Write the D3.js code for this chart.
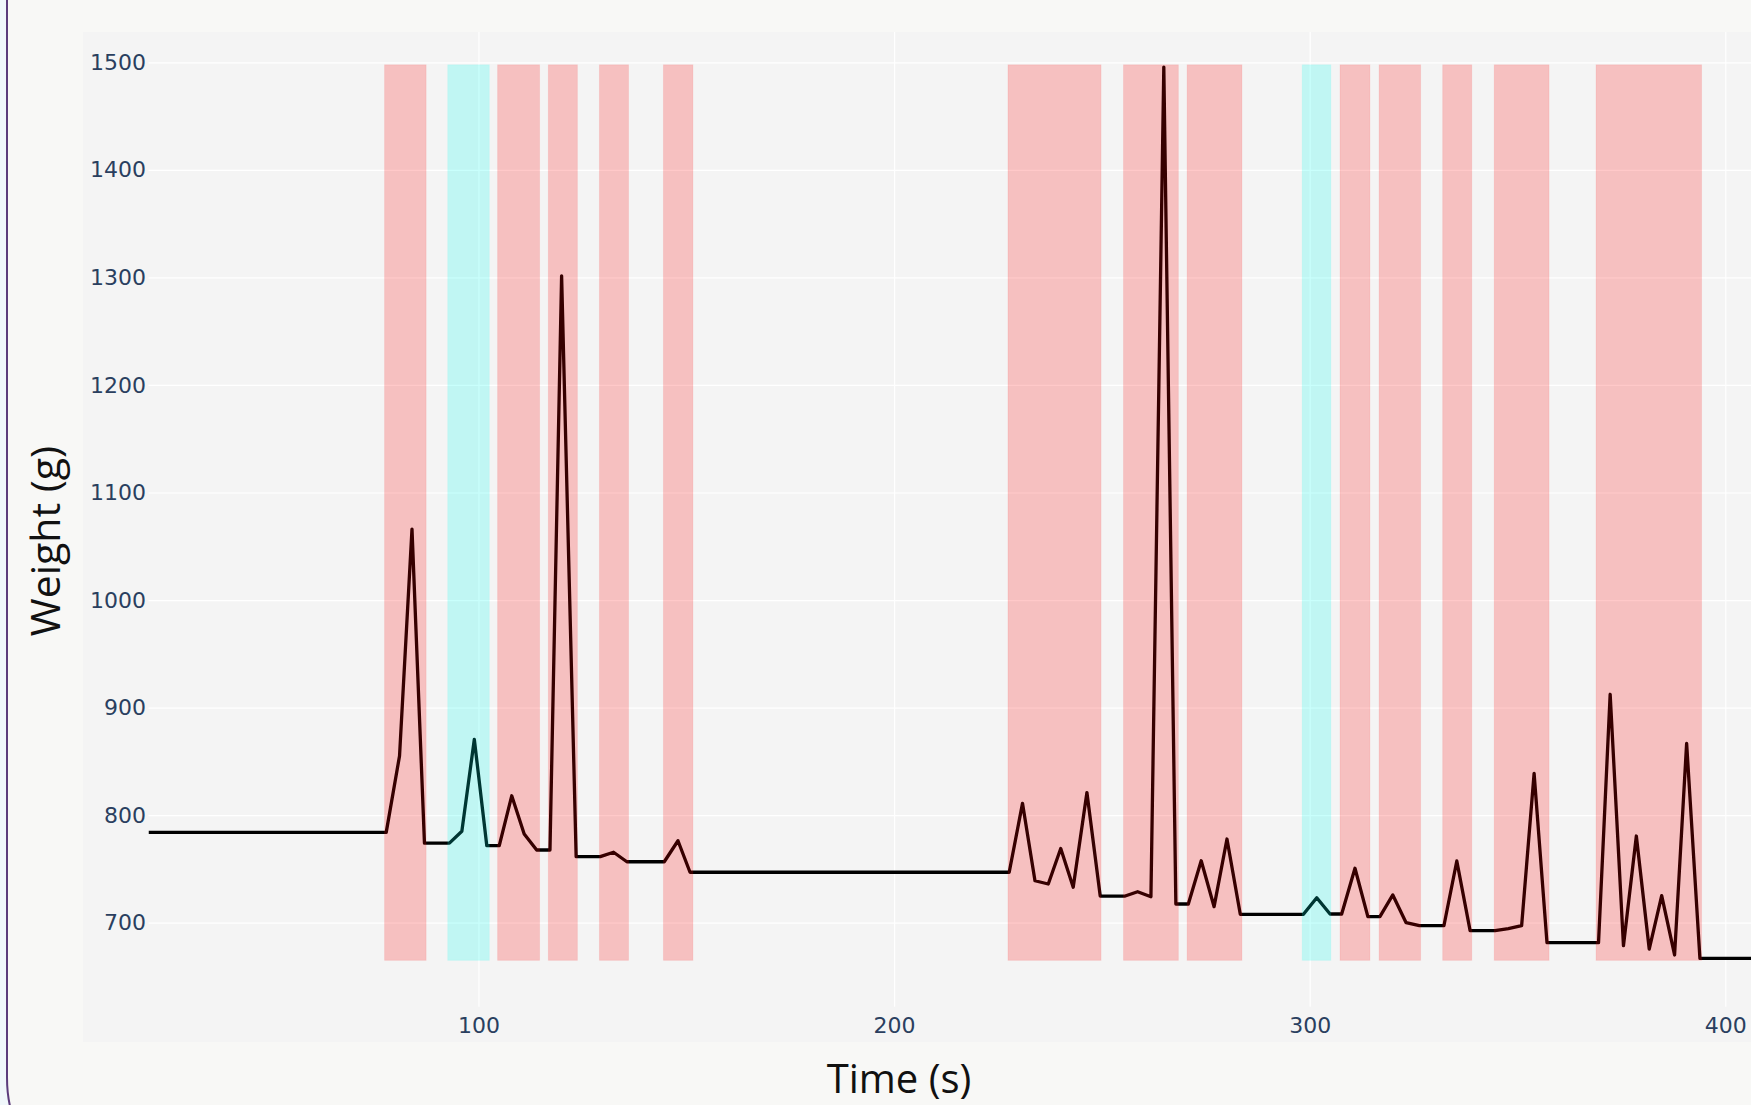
<!DOCTYPE html>
<html>
<head>
<meta charset="utf-8">
<script src="https://cdn.jsdelivr.net/npm/d3@7"></script>
<style>
	html, body { margin: 0; padding: 0; background: #f0f7fb; overflow: hidden; }
	svg { display: block; }
</style>
</head>
<body>
<div id="chart"></div>
<script>
// weight readings (g) against time (s)
const timeS = [20.6, 77.8, 81.0, 84.0, 87.0, 93.0, 96.0, 99.0, 102.0, 105.0, 108.0, 111.0, 114.0, 117.2, 120.0, 123.5,
	129.3, 132.5, 135.7, 144.7, 148.0, 150.9, 227.7, 230.9, 233.9, 237.1, 240.1, 243.1, 246.4, 249.6, 255.6, 258.6,
	261.8, 264.9, 267.8, 270.8, 273.9, 277.0, 280.1, 283.3, 298.5, 301.7, 304.9, 307.7, 310.9, 314.0, 316.9, 320.0,
	323.2, 326.4, 332.3, 335.4, 338.6, 344.6, 347.8, 351.0, 354.0, 357.1, 369.5, 372.3, 375.5, 378.6, 381.7, 384.7,
	387.8, 390.7, 393.9, 420]
const weightG = [784, 784, 855, 1066, 774, 774, 785, 870.5, 771.6, 771.6, 818, 782.5, 767.6, 767.6, 1301.5, 761.4,
	761.4, 765.5, 756.7, 756.7, 776.2, 746.9, 746.9, 811, 739, 736, 769, 733, 821, 724.8, 724.8, 728.8,
	724.2, 1495.6, 717.4, 717.4, 757.6, 714.9, 777.8, 707.8, 707.8, 723.2, 708.1, 708.1, 750.6, 705.6, 705.6, 725.8,
	700, 697.2, 697.2, 757.4, 692.6, 692.6, 694.5, 697.2, 838.9, 681.4, 681.4, 912.4, 678.6, 780.6, 675.5, 725.1,
	670, 866.8, 666.9, 666.9]

// highlighted intervals
const segStart = [77.4, 92.6, 104.6, 116.8, 129.1, 144.5, 227.4, 255.2, 270.5, 298.2, 307.3, 316.7, 332.0, 344.4, 368.9]
const segEnd = [87.4, 102.6, 114.7, 123.8, 136.1, 151.6, 249.8, 268.4, 283.7, 305.1, 314.5, 326.7, 339.0, 357.6, 394.3]
const segKind = ["red", "cyan", "red", "red", "red", "red", "red", "red", "red", "cyan", "red", "red", "red", "red", "red"]
const segLow = 665
const segHigh = 1497.7

const xTicks = [100, 200, 300, 400]
const yTicks = [700, 800, 900, 1000, 1100, 1200, 1300, 1400, 1500]

const width = 1751
const height = 1105
const plot = { left: 148.5, right: 1808.4, top: 32, bottom: 1006.7 }

const svg = d3.select("#chart").append("svg")
	.attr("width", width)
	.attr("height", height)

// card with purple border, rounded corner at bottom left
svg.append("path")
	.attr("d", `M7,-20 L7,${1163 - 86} Q7,1163 ${7 + 86},1163 L1800,1163 L1800,-20 Z`)
	.attr("fill", "#f8f8f6")
	.attr("stroke", "#5b3c7c")
	.attr("stroke-width", 2)

svg.append("rect")
	.attr("x", 83).attr("y", 32)
	.attr("width", width - 83).attr("height", 1042 - 32)
	.attr("fill", "#f4f4f4")

const x = d3.scaleLinear().domain([20.6, 420]).range([plot.left, plot.right])
const y = d3.scaleLinear().domain([621.9, 1528.2]).range([plot.bottom, plot.top])

const tickFont = "'DejaVu Sans', Verdana, sans-serif"

const xAxis = svg.append("g")
	.attr("transform", `translate(0,${plot.bottom})`)
	.call(d3.axisBottom(x).tickValues(xTicks).tickFormat(d3.format("d"))
		.tickSize(-(plot.bottom - plot.top)).tickPadding(10.5))
xAxis.select(".domain").remove()
xAxis.selectAll("line").attr("stroke", "#ffffff").attr("stroke-width", 1.2)
xAxis.selectAll("text").attr("fill", "#2a3f5f").style("font-family", tickFont).style("font-size", "22px")

const yAxis = svg.append("g")
	.attr("transform", `translate(${plot.left},0)`)
	.call(d3.axisLeft(y).tickValues(yTicks).tickFormat(d3.format("d"))
		.tickSize(-(plot.right - plot.left)).tickPadding(2.5))
yAxis.select(".domain").remove()
yAxis.selectAll("line").attr("stroke", "#ffffff").attr("stroke-width", 1.2)
yAxis.selectAll("text").attr("fill", "#2a3f5f").style("font-family", tickFont).style("font-size", "22px")

svg.append("clipPath").attr("id", "plot-clip")
	.append("rect")
	.attr("x", plot.left).attr("y", plot.top)
	.attr("width", plot.right - plot.left).attr("height", plot.bottom - plot.top)

const plotArea = svg.append("g").attr("clip-path", "url(#plot-clip)")

const points = timeS.map((t, i) => ({ t: t, w: weightG[i] }))
const line = d3.line().x(d => x(d.t)).y(d => y(d.w))

plotArea.append("path")
	.datum(points)
	.attr("d", line)
	.attr("fill", "none")
	.attr("stroke", "#000000")
	.attr("stroke-width", 3.3)
	.attr("stroke-linejoin", "round")

// shaded intervals sit above the trace, like the original
const segs = segStart.map((s, i) => ({ s: s, e: segEnd[i], kind: segKind[i] }))
plotArea.append("g")
	.selectAll("rect")
	.data(segs)
	.join("rect")
	.attr("x", d => x(d.s))
	.attr("y", y(segHigh))
	.attr("width", d => x(d.e) - x(d.s))
	.attr("height", y(segLow) - y(segHigh))
	.attr("fill", d => d.kind === "red" ? "#ff0000" : "#00fff0")
	.attr("fill-opacity", 0.21)
	.attr("stroke", d => d.kind === "red" ? "#ff0000" : "#00fff0")
	.attr("stroke-opacity", 0.08)
	.attr("stroke-width", 1)

const titleFont = "'Open Sans', sans-serif"
svg.append("text")
	.attr("x", 899).attr("y", 1093)
	.attr("text-anchor", "middle")
	.style("font-family", titleFont).style("font-size", "40px")
	.attr("fill", "#111111")
	.text("Time (s)")

svg.append("text")
	.attr("transform", "translate(60,541) rotate(-90)")
	.attr("text-anchor", "middle")
	.style("font-family", titleFont).style("font-size", "41px")
	.attr("fill", "#111111")
	.text("Weight (g)")
</script>
</body>
</html>
